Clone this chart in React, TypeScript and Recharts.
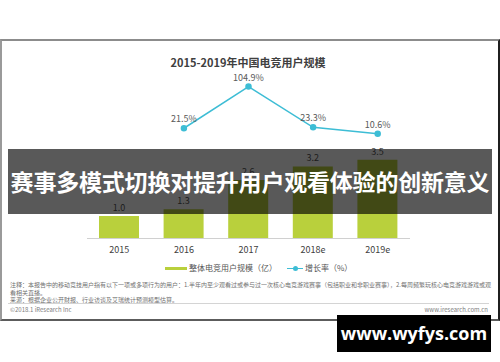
import React from "react";
import {
  ComposedChart,
  Bar,
  Line,
  XAxis,
  YAxis,
  LabelList,
} from "recharts";

const years = ["2015", "2016", "2017", "2018e", "2019e"];
const users = [1.0, 1.3, 2.6, 3.2, 3.5];
const growth: (number | null)[] = [null, 21.5, 104.9, 23.3, 10.6];

const chartData = years.map((year, i) => ({
  year,
  users: users[i],
  growth: growth[i],
}));

const FONT = '"Noto Sans CJK SC", "Noto Sans", sans-serif';
const BAR_COLOR = "#b9d03c";
const LINE_COLOR = "#3dbdd5";

const App = () => {
  return (
    <div
      style={{
        position: "absolute",
        left: 0,
        top: 0,
        width: 500,
        height: 362,
        background: "#fff",
        overflow: "hidden",
        fontFamily: FONT,
      }}
    >
      {/* frame of the original report image */}
      <div
        style={{
          position: "absolute",
          left: 0,
          top: 39,
          width: 496,
          height: 278,
          borderTop: "2px solid #8c8c8c",
          borderLeft: "2px solid #9a9a9a",
          borderRight: "2px solid #1f1f1f",
          borderBottom: "2px solid #5c5c5c",
        }}
      />

      <div
        style={{
          position: "absolute",
          top: 54,
          left: 0,
          width: 496,
          textAlign: "center",
          fontSize: 11,
          fontWeight: 700,
          color: "#404040",
        }}
      >
        2015-2019年中国电竞用户规模
      </div>

      <div style={{ position: "absolute", left: 0, top: 0 }}>
        <ComposedChart
          width={500}
          height={362}
          data={chartData}
          margin={{ top: 60, right: 90, bottom: 103.5, left: 87 }}
        >
          <XAxis
            dataKey="year"
            height={20}
            tickLine={false}
            axisLine={{ stroke: "#d0d0d0" }}
            tick={{ fontSize: 9, fill: "#404040", fontFamily: FONT }}
            tickMargin={2}
          />
          <YAxis yAxisId="users" hide domain={[0, 7.93]} />
          <YAxis yAxisId="rate" orientation="right" hide domain={[-199, 158]} />
          <Bar
            yAxisId="users"
            dataKey="users"
            fill={BAR_COLOR}
            barSize={40}
            isAnimationActive={false}
          >
            <LabelList
              dataKey="users"
              position="top"
              offset={5}
              fontSize={9}
              fill="#555"
              fontFamily={FONT}
              formatter={(v: any) => Number(v).toFixed(1)}
            />
          </Bar>
          <Line
            yAxisId="rate"
            dataKey="growth"
            stroke={LINE_COLOR}
            strokeWidth={1.5}
            dot={{ r: 2.5, fill: LINE_COLOR, stroke: LINE_COLOR }}
            isAnimationActive={false}
          >
            <LabelList
              dataKey="growth"
              position="top"
              offset={6}
              fontSize={9}
              fill="#595959"
              fontFamily={FONT}
              formatter={(v: any) => (v == null ? "" : `${v}%`)}
            />
          </Line>
        </ComposedChart>
      </div>

      {/* legend */}
      <div
        style={{
          position: "absolute",
          top: 262,
          left: 165,
          display: "flex",
          alignItems: "center",
          fontSize: 8,
          color: "#555",
          lineHeight: "12px",
          whiteSpace: "nowrap",
        }}
      >
        <span style={{ width: 22, height: 3, background: BAR_COLOR, display: "inline-block", marginRight: 2 }} />
        <span>整体电竞用户规模（亿）</span>
        <span style={{ position: "relative", width: 16, height: 12, display: "inline-block", marginLeft: 10, marginRight: 2 }}>
          <span style={{ position: "absolute", left: 0, top: 5.5, width: 16, height: 1.5, background: LINE_COLOR }} />
          <span style={{ position: "absolute", left: 5.5, top: 3.5, width: 5, height: 5, borderRadius: 3, background: LINE_COLOR }} />
        </span>
        <span>增长率（%）</span>
      </div>

      {/* notes */}
      <div
        style={{
          position: "absolute",
          top: 281,
          left: 10,
          width: 482,
          fontSize: 6,
          lineHeight: "7.5px",
          color: "#707070",
        }}
      >
        <div>
          注释：本报告中的移动竞技用户指有以下一项或多项行为的用户：1.半年内至少观看过或参与过一次核心电竞游戏赛事（包括职业和非职业赛事），2.每周频繁玩核心电竞游戏游戏或观看相关直播。
        </div>
        <div>来源：根据企业公开财报、行业访谈及艾瑞统计预测模型估算。</div>
      </div>
      <div
        style={{
          position: "absolute",
          top: 303,
          left: 8,
          width: 481,
          height: 1,
          background: "#d4d4d4",
        }}
      />
      <div
        style={{
          position: "absolute",
          top: 306,
          left: 10,
          fontSize: 6,
          color: "#808080",
          lineHeight: "8px",
        }}
      >
        ©2018.1 iResearch Inc
      </div>
      <div
        style={{
          position: "absolute",
          top: 306,
          right: 12,
          fontSize: 6,
          color: "#808080",
          lineHeight: "8px",
        }}
      >
        www.iresearch.com.cn
      </div>

      {/* dark caption banner */}
      <div
        style={{
          position: "absolute",
          left: 8,
          top: 149,
          width: 484,
          height: 65,
          background: "rgba(0,0,0,0.65)",
          color: "#fff",
          fontSize: 23,
          fontWeight: 700,
          lineHeight: "65px",
          textAlign: "center",
          whiteSpace: "nowrap",
          letterSpacing: -0.2,
        }}
      >
        赛事多模式切换对提升用户观看体验的创新意义
      </div>

      {/* watermark */}
      <div
        style={{
          position: "absolute",
          left: 337,
          top: 315,
          width: 154,
          height: 37,
          background: "#000",
          color: "#fff",
          fontFamily: '"Open Sans", "DejaVu Sans", sans-serif',
          fontSize: 18,
          fontWeight: 700,
          lineHeight: "37px",
          textAlign: "center",
        }}
      >
        www.wyfys.com
      </div>
    </div>
  );
};

export default App;
